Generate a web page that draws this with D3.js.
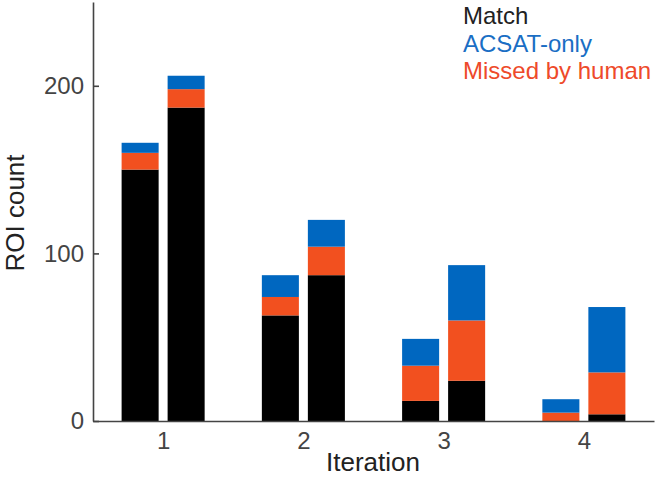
<!DOCTYPE html>
<html>
<head>
<meta charset="utf-8">
<script src="https://cdn.jsdelivr.net/npm/d3@7"></script>
<style>
  body { margin: 0; background: #fff; }
  svg { display: block; font-family: "Liberation Sans", Arial, sans-serif; }
  .axis path, .axis line { stroke: #444; stroke-width: 1.6; }
  .axis text { fill: #444; font-size: 24px; }
</style>
</head>
<body>
<script>
// two bars per iteration, stacked bottom to top: match, missed, acsat
const iterations = [1, 2, 3, 4]
const match  = [[150, 187], [63, 87], [12, 24], [0, 4]]
const missed = [[10, 11], [11, 17], [21, 36], [5, 25]]
const acsat  = [[6, 8], [13, 16], [16, 33], [8, 39]]
const yTicks = [0, 100, 200]

const seriesNames = ['Match', 'ACSAT-only', 'Missed by human']
const colors = { match: '#000000', missed: '#F2501F', acsat: '#0067C0' }
const legendColors = ['#222222', '#1A6EC4', '#EE4A2A']

const w = 656
const h = 478

// flatten into one row per bar
let rows = []
iterations.forEach((it, i) => {
  [0, 1].forEach(slot => {
    rows.push({ iter: it, slot: slot, match: match[i][slot], missed: missed[i][slot], acsat: acsat[i][slot] })
  })
})

const svg = d3.select('body')
  .append('svg')
  .attr('width', w)
  .attr('height', h)

const xScale = d3.scaleLinear()
  .domain([0.5, 4.5])
  .range([93, 654])

const yScale = d3.scaleLinear()
  .domain([0, 250])
  .range([421, 2])

const offset = 0.164   // bar centre offset from iteration tick
const barW = 0.264     // bar width in iteration units

const stack = d3.stack().keys(['match', 'missed', 'acsat'])
const layers = stack(rows)

svg.append('g')
  .selectAll('g')
  .data(layers)
  .enter()
  .append('g')
  .attr('fill', d => colors[d.key])
  .selectAll('rect')
  .data(d => d)
  .enter()
  .append('rect')
  .attr('x', d => xScale(d.data.iter + (d.data.slot === 0 ? -offset : offset) - barW / 2))
  .attr('width', d => xScale(barW) - xScale(0))
  .attr('y', d => yScale(d[1]))
  .attr('height', d => yScale(d[0]) - yScale(d[1]))

const yAxis = d3.axisLeft(yScale)
  .tickValues(yTicks)
  .tickSizeInner(-6)
  .tickSizeOuter(0)
  .tickPadding(9)

const xAxis = d3.axisBottom(xScale)
  .tickValues(iterations)
  .tickFormat(d3.format('d'))
  .tickSize(0)
  .tickPadding(11)

svg.append('g')
  .attr('class', 'axis')
  .attr('transform', 'translate(' + xScale.range()[0] + ',0)')
  .call(yAxis)

svg.append('g')
  .attr('class', 'axis')
  .attr('transform', 'translate(0,' + yScale(0) + ')')
  .call(xAxis)

svg.append('text')
  .attr('x', 373)
  .attr('y', 471)
  .attr('text-anchor', 'middle')
  .attr('font-size', 26)
  .attr('fill', '#222')
  .text('Iteration')

svg.append('text')
  .attr('transform', 'translate(24,213) rotate(-90)')
  .attr('text-anchor', 'middle')
  .attr('font-size', 26)
  .attr('fill', '#222')
  .text('ROI count')

svg.append('g')
  .selectAll('text')
  .data(seriesNames)
  .enter()
  .append('text')
  .attr('x', 463)
  .attr('y', (d, i) => 24 + i * 27.5)
  .attr('font-size', 24)
  .attr('fill', (d, i) => legendColors[i])
  .text(d => d)
</script>
</body>
</html>
